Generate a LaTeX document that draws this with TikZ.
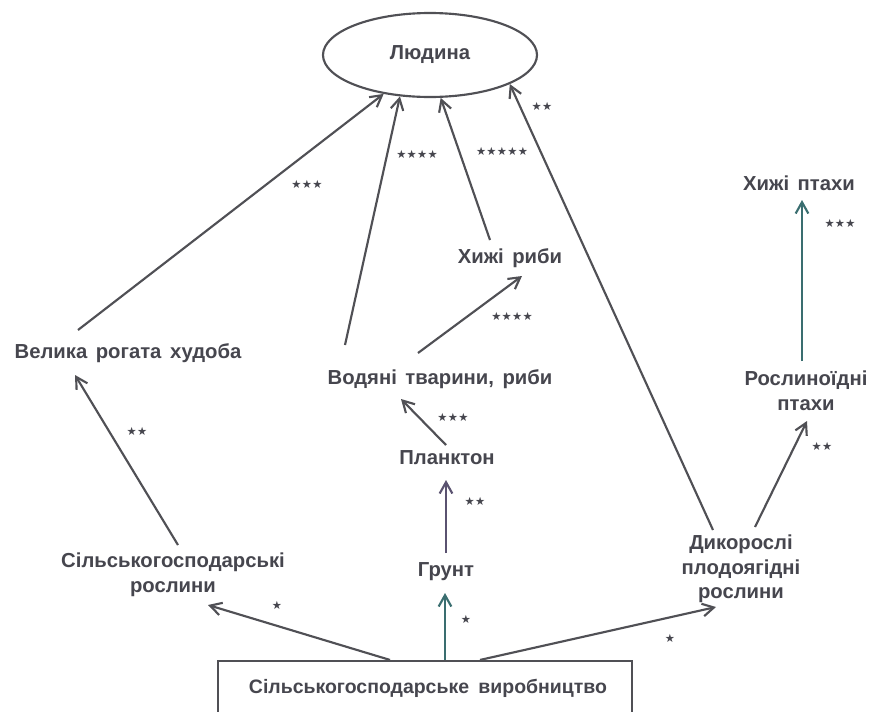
\documentclass[tikz,border=0pt]{standalone}
\usepackage{fontspec}
\setmainfont{Liberation Sans}
\newfontfamily\starfont{DejaVu Sans}
\usetikzlibrary{arrows.meta,calc,shapes.geometric}
\definecolor{ink}{HTML}{46464E}
\definecolor{lineg}{HTML}{505055}
\definecolor{tealg}{HTML}{3A6E70}
\definecolor{purg}{HTML}{5A5270}
\newcommand{\stx}{\mbox{\starfont ★}}
\newcommand{\sts}{\hspace{0.2pt}}
\newcommand{\lblfont}{\bfseries\fontsize{15.2}{18.5}\selectfont\spaceskip=6.4pt plus 1pt minus 1pt\relax}
\newcommand{\boxfont}{\bfseries\fontsize{14.6}{18}\selectfont}
\tikzset{
  lbl/.style={font=\lblfont, text=ink, align=center, inner sep=2pt},
  stars/.style={font=\fontsize{8.5}{9}\selectfont, text=ink, inner sep=0pt},
  arr/.style={draw=lineg, line width=1.6pt, -{Straight Barb[length=8.5pt,width=9.5pt,line width=1.6pt]}},
}
\begin{document}
\begin{tikzpicture}[x=0.75pt,y=-0.75pt]
\useasboundingbox (0,0) rectangle (886,711);
\clip (0,0) rectangle (886,711);
\fill[white] (0,0) rectangle (886,711);
% nodes
\node[ellipse, draw=lineg, line width=1.6pt, minimum width=160.5pt, minimum height=63pt, lbl] (l) at (430,55) {Людина};
\node[lbl] (vrh) at (128,353) {Велика рогата худоба};
\node[lbl] (vod) at (440,379) {Водяні тварини, риби};
\node[lbl] (hr) at (510,258) {Хижі риби};
\node[lbl] (hp) at (799,183) {Хижі птахи};
\node[lbl] (rp) at (806,391) {Рослиноїдні\\птахи};
\node[lbl] (pl) at (447,458) {Планктон};
\node[lbl] (gr) at (446,572) {Грунт};
\node[lbl] (sr) at (173,575) {Сільськогосподарські\\рослини};
\node[lbl] (dr) at (741,569) {Дикорослі\\плодоягідні\\рослини};
\node[draw=lineg, line width=1.6pt, minimum width=310.5pt, minimum height=42pt, inner sep=0pt] (box) at (425,689) {};
\node[lbl, font=\boxfont] (boxt) at (428,688) {Сільськогосподарське\hspace{3pt} виробництво};
% connectors
\draw[arr] ($(vrh)+(-50,-23)$) -- (l.220);
\draw[arr] ($(vod)+(-95,-34)$) -- (l.234);
\draw[arr] ($(hr)+(-20,-18)$) -- (l.284);
\draw[arr] ($(dr)+(-28,-39)$) -- (l.340);
\draw[arr] ($(vod)+(-22,-26)$) -- ($(hr)+(12,18)$);
\draw[arr] ($(pl)+(-1,-13)$) -- ($(vod)+(-39,20)$);
\draw[arr, draw=purg] ($(gr)+(0,-19)$) -- ($(pl)+(-1,22)$);
\draw[arr, draw=tealg] ($(box.north)+(20,0)$) -- ($(gr)+(-1,21)$);
\draw[arr] ($(box.north)+(-35,0)$) -- ($(sr)+(35,30)$);
\draw[arr] ($(box.north)+(55,0)$) -- ($(dr)+(-25,38)$);
\draw[arr] ($(sr)+(5,-30)$) -- ($(vrh)+(-53,22)$);
\draw[arr] ($(dr)+(14,-42)$) -- ($(rp)+(1,30)$);
\draw[arr, draw=tealg] ($(rp)+(-4,-30)$) -- ($(hp)+(3,17)$);
% star labels
\node[stars] (s1) at (307,184) {\stx\sts\stx\sts\stx};
\node[stars] (s2) at (417,154) {\stx\sts\stx\sts\stx\sts\stx};
\node[stars] (s3) at (502,151) {\stx\sts\stx\sts\stx\sts\stx\sts\stx};
\node[stars] (s4) at (542,106) {\stx\sts\stx};
\node[stars] (s5) at (512,316) {\stx\sts\stx\sts\stx\sts\stx};
\node[stars] (s6) at (840,223) {\stx\sts\stx\sts\stx};
\node[stars] (s7) at (822,446) {\stx\sts\stx};
\node[stars] (s8) at (137,431) {\stx\sts\stx};
\node[stars] (s9) at (453,417) {\stx\sts\stx\sts\stx};
\node[stars] (s10) at (475,501) {\stx\sts\stx};
\node[stars] (s11) at (466,619) {\stx};
\node[stars] (s12) at (670,638) {\stx};
\node[stars] (s13) at (277,605) {\stx};
\end{tikzpicture}
\end{document}
